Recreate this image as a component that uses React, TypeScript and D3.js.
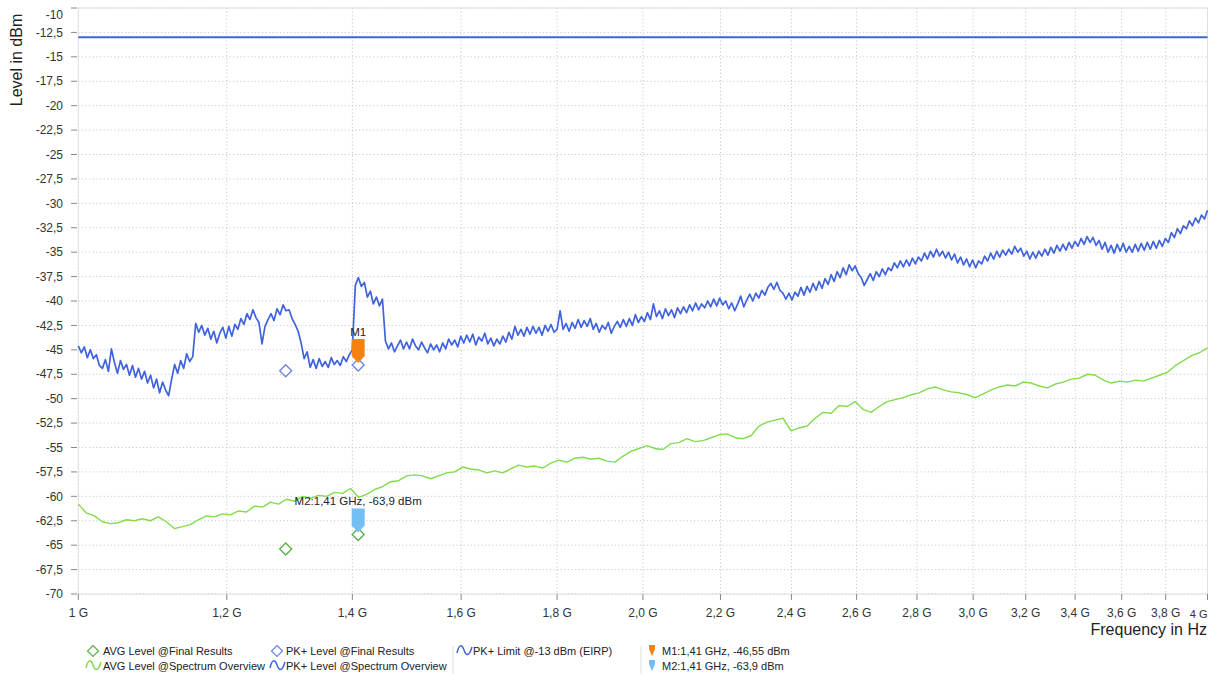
import { useMemo } from "react";
import * as d3 from "d3";

const WIDTH = 1221;
const HEIGHT = 677;
const FONT = "'Liberation Sans', Arial, sans-serif";

// x ticks in GHz, y ticks in dBm
const xTicks = [1, 1.2, 1.4, 1.6, 1.8, 2.0, 2.2, 2.4, 2.6, 2.8, 3.0, 3.2, 3.4, 3.6, 3.8, 4];
const yTicks = [-70, -67.5, -65, -62.5, -60, -57.5, -55, -52.5, -50, -47.5, -45, -42.5, -40, -37.5, -35, -32.5, -30, -27.5, -25, -22.5, -20, -17.5, -15, -12.5, -10];

// sweep 1 GHz .. 4 GHz (log), PK+ spectrum overview
const pkStart = 1e9;
const pkStop = 4e9;
const pkLevels = [
  -44.6, -45.3, -44.7, -45.8, -45.0, -45.9, -45.5, -46.6, -46.9, -46.0,
  -47.2, -44.9, -46.3, -47.4, -46.1, -47.0, -46.5, -47.6, -46.6, -47.8,
  -46.9, -48.0, -47.2, -48.4, -47.6, -48.9, -48.0, -49.4, -48.3, -49.1,
  -49.7, -48.0, -46.5, -47.4, -46.1, -46.9, -45.4, -46.2, -45.7, -42.3,
  -43.2, -42.5, -43.5, -42.8, -43.9, -43.1, -44.3, -43.3, -42.7, -43.8,
  -42.6, -43.6, -42.4, -42.9, -41.8, -42.4, -41.3, -41.9, -40.9, -41.7,
  -42.2, -44.4, -42.6, -41.9, -41.3, -42.0, -40.8, -41.4, -40.4, -41.0,
  -40.9, -41.8, -42.4, -43.1, -44.3, -45.9, -45.2, -46.8, -46.0, -46.9,
  -45.9, -46.7, -46.2, -46.8, -45.8, -46.5, -46.1, -46.6, -45.7, -46.2,
  -45.5, -45.0, -38.4, -37.6, -38.5, -38.1, -39.6, -39.0, -40.3, -39.6,
  -40.5, -39.8, -44.1, -44.9, -44.3, -45.2, -44.6, -44.0, -44.9, -44.2,
  -44.9, -43.9, -44.6, -45.0, -44.2, -44.8, -45.3, -44.4, -45.0, -44.5,
  -45.2, -44.3, -44.9, -43.9, -44.5, -44.0, -44.7, -43.6, -44.3, -43.5,
  -44.2, -43.4, -44.5, -43.7, -44.1, -43.3, -44.4, -43.8, -44.6, -43.9,
  -44.4, -43.6, -44.2, -43.2, -43.9, -42.6, -43.5, -42.9, -43.6, -42.7,
  -43.4, -42.6, -43.3, -42.7, -43.5, -42.5, -43.1, -42.4, -43.2, -42.9,
  -41.0, -42.9, -42.3, -43.1, -42.2, -42.8, -41.9, -42.7, -42.0, -42.6,
  -41.8, -42.9, -42.3, -43.2, -42.5, -42.9, -42.2, -43.3, -42.6, -42.1,
  -42.7, -41.9, -42.6, -41.8, -42.5, -41.4, -42.2, -41.6, -42.1, -41.2,
  -41.9, -40.3, -41.6, -41.0, -41.8, -40.8, -41.5, -40.9, -41.7, -40.7,
  -41.3, -40.6, -41.2, -40.4, -41.0, -40.2, -40.9, -40.3, -40.7, -40.0,
  -40.6, -39.8, -40.5, -39.7, -40.4, -40.0, -40.8, -40.2, -41.0, -40.3,
  -39.5, -40.6, -39.9, -39.3, -40.0, -39.2, -39.7, -38.9, -39.4, -38.6,
  -38.2, -38.8, -38.1, -38.9, -39.2, -39.8, -39.2, -39.9, -39.1, -39.5,
  -38.6, -39.4, -38.5, -39.1, -38.2, -38.9, -38.0, -38.7, -37.7, -38.3,
  -37.3, -38.0, -37.0, -37.6, -36.6, -37.3, -36.3, -36.9, -36.4, -37.2,
  -37.6, -38.4, -37.8, -37.2, -37.9, -37.0, -37.5, -36.7, -37.3, -36.6,
  -36.9, -36.1, -36.6, -35.9, -36.5, -35.8, -36.4, -35.6, -36.2, -35.5,
  -35.9, -35.1, -35.7, -34.9, -35.5, -34.7, -35.4, -34.9, -35.6, -35.0,
  -35.8, -35.2, -36.1, -35.5, -36.3, -35.7, -36.5, -35.8, -36.6, -35.9,
  -36.2, -35.4, -35.9, -35.1, -35.7, -34.9, -35.5, -34.8, -35.3, -34.7,
  -35.2, -34.4, -35.0, -34.6, -35.4, -34.9, -35.7, -35.0, -35.6, -34.9,
  -35.4, -34.7, -35.3, -34.5, -35.1, -34.3, -34.9, -34.2, -34.8, -34.0,
  -34.6, -33.9, -34.4, -33.6, -34.2, -33.4, -34.0, -33.5, -34.3, -33.8,
  -34.7, -34.0, -35.0, -34.3, -35.1, -34.2, -34.9, -34.1, -35.0, -34.4,
  -35.0, -34.2, -34.9, -34.1, -34.8, -34.0, -34.7, -33.9, -34.6, -33.8,
  -34.4, -33.6, -34.0, -33.0, -33.5, -32.6, -33.1, -32.3, -32.6, -31.8,
  -32.3, -31.5, -32.0, -31.2, -31.6, -30.7,
];

// AVG spectrum overview, same span, coarser sweep
const avgLevels = [
  -60.8, -61.7, -62.0, -62.6, -62.8, -62.7, -62.4, -62.5, -62.3, -62.5,
  -62.1, -62.6, -63.3, -63.1, -62.9, -62.4, -62.0, -62.1, -61.8, -61.9,
  -61.5, -61.6, -61.0, -61.1, -60.6, -60.8, -60.3, -60.5, -60.0, -60.2,
  -59.9, -60.0, -59.6, -59.7, -59.2, -60.1, -59.8, -59.3, -59.0, -58.5,
  -58.4, -57.9, -57.8, -57.9, -58.2, -57.9, -57.6, -57.5, -57.0, -57.2,
  -57.3, -57.6, -57.4, -57.6, -57.2, -56.8, -57.0, -56.9, -57.1, -56.6,
  -56.3, -56.5, -56.1, -56.0, -56.2, -56.1, -56.4, -56.5, -55.9, -55.4,
  -55.1, -54.8, -55.1, -55.2, -54.6, -54.5, -54.1, -54.4, -54.3, -54.0,
  -53.7, -53.6, -54.0, -54.1, -53.8, -52.8, -52.4, -52.2, -52.0, -53.3,
  -53.0, -52.8, -52.0, -51.4, -51.5, -50.7, -50.8, -50.3, -51.1, -51.4,
  -50.8, -50.3, -50.1, -49.9, -49.6, -49.4, -49.0, -48.8, -49.1, -49.3,
  -49.4, -49.6, -49.9, -49.5, -49.1, -48.8, -48.6, -48.7, -48.3, -48.4,
  -48.7, -48.9, -48.5, -48.3, -48.0, -47.9, -47.5, -47.6, -48.1, -48.4,
  -48.2, -48.3, -48.1, -48.2, -47.9, -47.6, -47.3, -46.6, -46.1, -45.6,
  -45.3, -44.8,
];

const limitLevel = -13;

// final results (GHz, dBm)
const finalFreqs = [1.29, 1.41];
const pkFinal = [-47.15, -46.55];
const avgFinal = [-65.4, -63.9];

const markers = [
  { name: "M1", freq: 1.41, level: -46.55, color: "#f5820f", label: "M1", legend: "M1:1,41 GHz, -46,55 dBm" },
  { name: "M2", freq: 1.41, level: -63.9, color: "#72bff5", label: "M2:1,41 GHz, -63,9 dBm", legend: "M2:1,41 GHz, -63,9 dBm" },
];

const BLUE = "#3f63dc";
const GREEN = "#80dc4c";
const GREEN_DIAMOND = "#5cb04a";
const BLUE_DIAMOND = "#6f86de";

const fmt = (v) => (Number.isInteger(v) ? String(v) : String(v).replace(".", ","));
const xFmt = (g) => (g === 1 || g === 4 ? `${g} G` : `${g.toFixed(1).replace(".", ",")} G`);

const sweep = (n) => d3.range(n).map((i) => pkStart * Math.pow(pkStop / pkStart, i / (n - 1)));

const diamond = (cx, cy, r) => `M${cx},${cy - r}L${cx + r},${cy}L${cx},${cy + r}L${cx - r},${cy}Z`;
const wave = (x, y) => `M${x},${y + 3}C${x + 2},${y - 6} ${x + 5},${y - 6} ${x + 7},${y}S${x + 12},${y + 7} ${x + 15},${y - 3}`;
const tag = (cx, tipY, w, h) =>
  `M${cx - w / 2},${tipY - h}H${cx + w / 2}V${tipY - 7}L${cx},${tipY}L${cx - w / 2},${tipY - 7}Z`;

export default function App() {
  const x = useMemo(() => d3.scaleLog().domain([1e9, 4e9]).range([78.3, 1207.5]), []);
  const y = useMemo(() => d3.scaleLinear().domain([-70, -10]).range([594, 8]), []);

  const pkPath = useMemo(() => {
    const f = sweep(pkLevels.length);
    return d3.line().x((d, i) => x(f[i])).y((d) => y(d))(pkLevels);
  }, [x, y]);

  const avgPath = useMemo(() => {
    const f = sweep(avgLevels.length);
    return d3.line().x((d, i) => x(f[i])).y((d) => y(d))(avgLevels);
  }, [x, y]);

  const [x0, x1] = x.range();
  const [yb, yt] = y.range();

  return (
    <div style={{ position: "absolute", left: 0, top: 0 }}>
      <svg width={WIDTH} height={HEIGHT} style={{ display: "block", fontFamily: FONT, background: "#fff" }}>
        {/* grid */}
        {yTicks.map((t) => (
          <line key={"gy" + t} x1={x0} x2={x1} y1={y(t)} y2={y(t)} stroke="#c8c8c8" strokeDasharray="1.2,2.4" />
        ))}
        {xTicks.map((t) => (
          <line key={"gx" + t} x1={x(t * 1e9)} x2={x(t * 1e9)} y1={yt} y2={yb} stroke="#c8c8c8" strokeDasharray="1.2,2.4" />
        ))}
        <rect x={x0} y={yt} width={x1 - x0} height={yb - yt} fill="none" stroke="#e0e0e0" />

        {/* y axis */}
        {yTicks.map((t) => (
          <g key={"ty" + t}>
            <line x1={71} x2={77} y1={y(t)} y2={y(t)} stroke="#888" />
            <text x={63} y={Math.max(y(t), 14.5)} dy="0.35em" textAnchor="end" fontSize={12} fill="#333">
              {fmt(t)}
            </text>
          </g>
        ))}
        <text transform="translate(22,60) rotate(-90)" textAnchor="middle" fontSize={16} fill="#222">
          Level in dBm
        </text>

        {/* x axis */}
        {xTicks.map((t, i) => (
          <g key={"tx" + t}>
            <line x1={x(t * 1e9)} x2={x(t * 1e9)} y1={yb} y2={yb + 6} stroke="#888" />
            <text
              x={i === xTicks.length - 1 ? x1 : x(t * 1e9)}
              y={i === xTicks.length - 1 ? 618 : 617}
              textAnchor={i === xTicks.length - 1 ? "end" : "middle"}
              fontSize={i === xTicks.length - 1 ? 11 : 12}
              fill="#333"
            >
              {xFmt(t)}
            </text>
          </g>
        ))}
        <text x={1207} y={635} textAnchor="end" fontSize={16} fill="#222">
          Frequency in Hz
        </text>

        {/* traces */}
        <line x1={x0} x2={x1} y1={y(limitLevel)} y2={y(limitLevel)} stroke={BLUE} strokeWidth={2} />
        <path d={avgPath} fill="none" stroke={GREEN} strokeWidth={1.4} strokeLinejoin="round" />
        <path d={pkPath} fill="none" stroke={BLUE} strokeWidth={1.7} strokeLinejoin="round" />

        {/* final results */}
        {finalFreqs.map((f, i) => (
          <g key={"fr" + f}>
            <path d={diamond(x(f * 1e9), y(pkFinal[i]), 6)} fill="#fff" stroke={BLUE_DIAMOND} strokeWidth={1.4} />
            <path d={diamond(x(f * 1e9), y(avgFinal[i]), 6)} fill="#fff" stroke={GREEN_DIAMOND} strokeWidth={1.4} />
          </g>
        ))}

        {/* markers */}
        {markers.map((m) => {
          const mx = x(m.freq * 1e9);
          const my = y(m.level) - 2;
          return (
            <g key={m.name}>
              <path d={tag(mx, my, 13, 24)} fill={m.color} />
              <text x={mx} y={my - 27} textAnchor="middle" fontSize={11.5} fill="#222">
                {m.label}
              </text>
            </g>
          );
        })}

        {/* legend */}
        <g fontSize={11} fill="#222">
          <path d={diamond(93, 651, 5.5)} fill="#fff" stroke={GREEN_DIAMOND} strokeWidth={1.2} />
          <text x={103} y={655}>AVG Level @Final Results</text>
          <path d={wave(86, 665)} fill="none" stroke={GREEN} strokeWidth={1.5} />
          <text x={103} y={670}>AVG Level @Spectrum Overview</text>

          <path d={diamond(277, 651, 5.5)} fill="#fff" stroke={BLUE_DIAMOND} strokeWidth={1.2} />
          <text x={286} y={655}>PK+ Level @Final Results</text>
          <path d={wave(270, 665)} fill="none" stroke={BLUE} strokeWidth={1.5} />
          <text x={286} y={670}>PK+ Level @Spectrum Overview</text>

          <line x1={453} x2={453} y1={646} y2={674} stroke="#ddd" />
          <path d={wave(457, 650)} fill="none" stroke={BLUE} strokeWidth={1.5} />
          <text x={473} y={655}>PK+ Limit @-13 dBm (EIRP)</text>

          <line x1={641} x2={641} y1={646} y2={674} stroke="#ddd" />
          {markers.map((m, i) => (
            <g key={"lg" + m.name}>
              <path d={tag(652, 656 + i * 15, 6, 11)} fill={m.color} />
              <text x={662} y={655 + i * 15}>{m.legend}</text>
            </g>
          ))}
        </g>
      </svg>
    </div>
  );
}
